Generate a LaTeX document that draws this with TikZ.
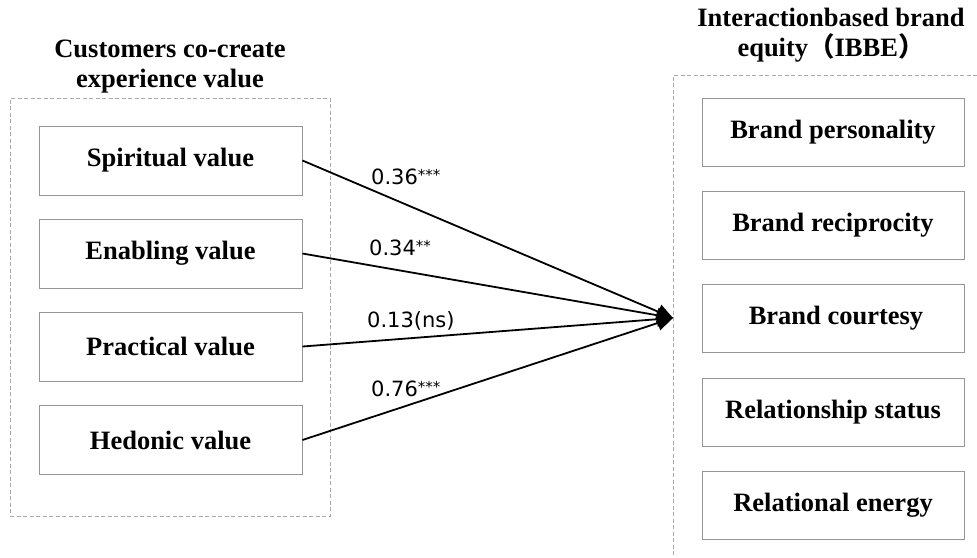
\documentclass[tikz,border=0pt]{standalone}
\usepackage{fontspec}
\setmainfont{Liberation Serif}
\newfontfamily\labfont{DejaVu Sans}
\newfontfamily\cjk{Noto Sans CJK SC}
\usetikzlibrary{arrows.meta}
\definecolor{boxgray}{RGB}{150,150,150}
\definecolor{dashgray}{RGB}{170,170,170}
\begin{document}
\begin{tikzpicture}[x=1pt,y=-1pt,
  valbox/.style={draw=boxgray,line width=0.9pt,minimum width=263pt,minimum height=69pt,inner sep=0pt,
    font=\fontsize{26.5}{30}\selectfont\bfseries},
  ibbebox/.style={draw=boxgray,line width=0.9pt,minimum width=262pt,minimum height=68pt,inner sep=0pt,
    font=\fontsize{26.5}{30}\selectfont\bfseries},
  grouptitle/.style={align=center,inner sep=0pt,font=\fontsize{26.5}{30}\selectfont\bfseries},
  groupframe/.style={draw=dashgray,line width=0.9pt,dash pattern=on 4pt off 2.5pt},
  coef/.style={inner sep=0pt,anchor=west,font=\labfont\fontsize{21}{24}\selectfont},
  link/.style={draw=black,line width=1.8pt,-{Triangle[length=16pt,width=15pt]}}
]
\useasboundingbox (0,0) rectangle (977,557);
\fill[white] (0,0) rectangle (977,557);

% left group
\node[grouptitle] (ltitle) at (170,67) {Customers co-create\\experience value};
\node[groupframe,draw,minimum width=320pt,minimum height=418pt,inner sep=0pt] (lframe) at (170,307) {};
\node[valbox] (spir) at (170.5,160.5) {Spiritual value};
\node[valbox] (enab) at (170.5,253.5) {Enabling value};
\node[valbox] (prac) at (170.5,346.5) {Practical value};
\node[valbox] (hedo) at (170.5,440) {Hedonic value};

% right group
\node[grouptitle] (rtitle) at (831,35) {Interactionbased brand\\equity{\cjk （}IBBE{\cjk ）}};
\coordinate (rfTR) at (990,75);
\coordinate (rfTL) at (673,75);
\coordinate (rfBL) at (673,570);
\draw[groupframe] (rfTR) -- (rfTL) -- (rfBL);
\node[ibbebox] (pers) at (833,132) {Brand personality};
\node[ibbebox] (reci) at (833,225) {Brand reciprocity};
\node[ibbebox] (cour) at (833,318) {\hspace*{6pt}Brand courtesy};
\node[ibbebox] (stat) at (833,412.5) {Relationship status};
\node[ibbebox] (ener) at (833,505) {Relational energy};

% paths
\coordinate (tip) at (673,318);
\draw[link] (spir.east) -- (tip);
\draw[link] (enab.east) -- (tip);
\draw[link] (prac.east) -- (tip);
\draw[link] (hedo.east) -- (tip);

\node[coef] (c1) at (371,177) {0.36\raisebox{4pt}{\fontsize{15}{16}\selectfont ***}};
\node[coef] (c2) at (369,248) {0.34\raisebox{4pt}{\fontsize{15}{16}\selectfont **}};
\node[coef] (c3) at (367,321) {0.13(ns)};
\node[coef] (c4) at (371,389) {0.76\raisebox{4pt}{\fontsize{15}{16}\selectfont ***}};
\end{tikzpicture}
\end{document}
